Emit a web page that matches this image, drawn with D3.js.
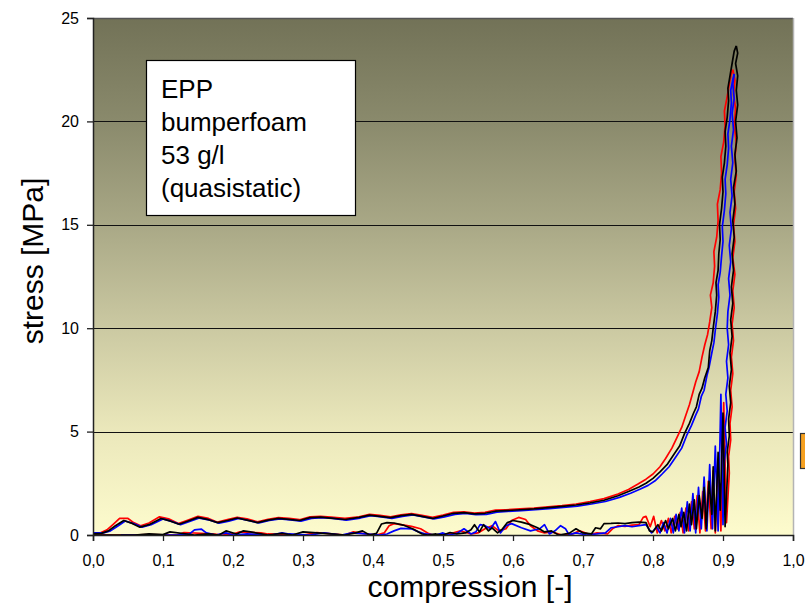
<!DOCTYPE html>
<html>
<head>
<meta charset="utf-8">
<script src="https://cdn.jsdelivr.net/npm/d3@7"></script>
<style>
  html, body { margin: 0; padding: 0; background: #ffffff; }
  svg { display: block; }
  text { font-family: "Liberation Sans", Arial, sans-serif; fill: #000; }
</style>
</head>
<body>
<div id="chart"></div>
<script>
// Quasistatic compression test of EPP bumper foam, 53 g/l: three runs,
// each one loading up to ~0.92 compression and then unloading.
const xTicks = [0, 0.1, 0.2, 0.3, 0.4, 0.5, 0.6, 0.7, 0.8, 0.9, 1.0];
const yTicks = [0, 5, 10, 15, 20, 25];
const noteLines = ["EPP", "bumperfoam", "53 g/l", "(quasistatic)"];

// [compression, stress MPa]
const blackLoading = [[0,0.05],[0.012,0.08],[0.022,0.2],[0.032,0.45],[0.044,0.7],[0.056,0.56],[0.067,0.38],[0.08,0.5],[0.097,0.8],[0.11,0.68],[0.123,0.52],[0.136,0.68],[0.15,0.85],[0.165,0.74],[0.178,0.6],[0.192,0.7],[0.206,0.82],[0.22,0.72],[0.235,0.6],[0.25,0.72],[0.265,0.8],[0.28,0.76],[0.295,0.7],[0.31,0.84],[0.325,0.86],[0.34,0.82],[0.36,0.75],[0.38,0.85],[0.395,0.96],[0.41,0.9],[0.425,0.84],[0.44,0.94],[0.455,1.0],[0.47,0.9],[0.485,0.8],[0.5,0.92],[0.515,1.05],[0.53,1.08],[0.545,1.02],[0.56,1.05],[0.575,1.15],[0.59,1.18],[0.61,1.22],[0.63,1.26],[0.65,1.32],[0.67,1.38],[0.69,1.45],[0.71,1.55],[0.73,1.68],[0.75,1.9],[0.765,2.1],[0.78,2.32],[0.79,2.5],[0.8,2.74],[0.81,3.05],[0.82,3.4],[0.83,3.9],[0.838,4.3],[0.845,4.9],[0.852,5.4],[0.858,5.9],[0.862,6.2],[0.866,6.8],[0.87,7.1],[0.874,7.6],[0.879,8.1],[0.881,8.9],[0.884,9.4],[0.886,10],[0.889,10.8],[0.891,11.6],[0.89,12.2],[0.893,12.8],[0.894,13.6],[0.896,14.3],[0.895,15],[0.898,15.8],[0.9,16.6],[0.899,17.3],[0.902,18],[0.904,18.8],[0.903,19.5],[0.906,20.2],[0.908,21],[0.907,21.6],[0.91,22.2],[0.913,22.8],[0.916,23.4],[0.919,23.65]];
const blackUnloading = [[0.919,23.65],[0.921,23.3],[0.918,22.8],[0.921,22.2],[0.919,21.5],[0.921,20.8],[0.918,20.0],[0.92,19.2],[0.917,18.4],[0.919,17.6],[0.915,16.8],[0.917,16],[0.914,15.2],[0.916,14.4],[0.913,13.6],[0.915,12.8],[0.912,12],[0.914,11.2],[0.911,10.4],[0.913,9.6],[0.91,8.8],[0.912,8],[0.909,7.2],[0.911,6.4],[0.908,5.6],[0.909,4.8],[0.906,4.0],[0.907,3.4],[0.903,0.4],[0.9,5.9],[0.896,1.2],[0.893,4.0],[0.889,0.2],[0.886,3.3],[0.884,1.0],[0.88,2.6],[0.876,0.3],[0.873,2.3],[0.87,0.8],[0.866,1.9],[0.862,0.3],[0.859,1.7],[0.855,0.5],[0.852,1.5],[0.848,0.2],[0.844,1.1],[0.84,0.4],[0.837,1.0],[0.832,0.2],[0.828,0.8],[0.822,0.3],[0.818,0.7],[0.812,0.2],[0.807,0.5],[0.8,0.15],[0.795,0.2],[0.79,0.6],[0.78,0.62],[0.77,0.6],[0.76,0.55],[0.75,0.58],[0.74,0.56],[0.73,0.55],[0.725,0.3],[0.718,0.35],[0.712,0.05],[0.7,0.1],[0.69,0.3],[0.68,0.08],[0.665,0.0],[0.655,0.2],[0.645,0.15],[0.635,0.35],[0.625,0.5],[0.612,0.62],[0.6,0.7],[0.592,0.6],[0.585,0.3],[0.578,0.1],[0.57,0.35],[0.565,0.2],[0.558,0.5],[0.552,0.15],[0.545,0.5],[0.54,0.25],[0.532,0.1],[0.52,0.05],[0.51,0.12],[0.5,0.0],[0.49,0.05],[0.478,0.0],[0.47,0.05],[0.458,0.28],[0.443,0.48],[0.43,0.58],[0.42,0.6],[0.412,0.53],[0.405,0.08],[0.395,0.0],[0.385,0.2],[0.375,0.1],[0.36,0.0],[0.34,0.05],[0.3,0.15],[0.285,0.0],[0.27,0.08],[0.25,0.0],[0.225,0.15],[0.215,0.2],[0.205,0.05],[0.19,0.2],[0.18,0.0],[0.165,0.05],[0.145,0.0],[0.11,0.15],[0.1,0.02],[0.08,0.05],[0.06,0.0],[0.0,0.0]];

const redLoading = [[0,0.1],[0.01,0.1],[0.02,0.25],[0.03,0.55],[0.038,0.8],[0.05,0.8],[0.058,0.6],[0.068,0.45],[0.08,0.58],[0.095,0.88],[0.108,0.78],[0.122,0.55],[0.136,0.72],[0.15,0.9],[0.165,0.8],[0.178,0.62],[0.192,0.74],[0.206,0.86],[0.22,0.78],[0.235,0.64],[0.25,0.76],[0.265,0.84],[0.28,0.8],[0.295,0.74],[0.31,0.88],[0.325,0.9],[0.34,0.86],[0.36,0.8],[0.38,0.88],[0.395,1.0],[0.41,0.95],[0.425,0.88],[0.44,0.98],[0.455,1.04],[0.47,0.95],[0.485,0.85],[0.5,0.96],[0.515,1.1],[0.53,1.12],[0.545,1.06],[0.56,1.1],[0.575,1.2],[0.59,1.22],[0.61,1.26],[0.63,1.3],[0.65,1.36],[0.67,1.42],[0.69,1.5],[0.71,1.62],[0.73,1.76],[0.75,1.98],[0.765,2.2],[0.778,2.45],[0.79,2.7],[0.8,2.95],[0.81,3.3],[0.818,3.7],[0.827,4.2],[0.834,4.7],[0.841,5.2],[0.847,5.8],[0.852,6.3],[0.857,6.9],[0.861,7.4],[0.866,7.9],[0.87,8.6],[0.874,9.2],[0.878,9.7],[0.881,10.3],[0.884,11],[0.882,11.6],[0.886,12.2],[0.888,13],[0.887,13.7],[0.891,14.4],[0.893,15.2],[0.892,16],[0.896,16.7],[0.898,17.5],[0.897,18.3],[0.901,19],[0.903,19.8],[0.902,20.5],[0.906,21.2],[0.909,21.8],[0.912,22.3],[0.914,22.5]];
const redUnloading = [[0.914,22.5],[0.917,22.0],[0.915,21.3],[0.918,20.6],[0.916,19.8],[0.919,19],[0.917,18.2],[0.919,17.4],[0.916,16.6],[0.918,15.8],[0.915,15],[0.917,14.2],[0.914,13.4],[0.917,12.6],[0.914,11.8],[0.916,11],[0.913,10.2],[0.915,9.4],[0.912,8.6],[0.914,7.8],[0.911,7],[0.913,6.2],[0.91,5.4],[0.911,4.6],[0.908,3.8],[0.909,3.0],[0.905,0.6],[0.901,6.4],[0.897,0.2],[0.893,3.6],[0.889,0.1],[0.886,3.1],[0.883,0.3],[0.879,2.6],[0.875,0.2],[0.871,2.1],[0.867,0.1],[0.863,1.9],[0.859,0.3],[0.855,1.6],[0.851,0.2],[0.847,1.3],[0.843,0.1],[0.839,1.1],[0.835,0.3],[0.831,0.9],[0.826,0.1],[0.822,0.8],[0.817,0.2],[0.812,0.7],[0.806,0.1],[0.801,0.9],[0.796,0.4],[0.79,0.9],[0.786,0.85],[0.78,0.5],[0.77,0.48],[0.76,0.42],[0.75,0.45],[0.742,0.3],[0.735,0.05],[0.72,0.1],[0.71,0.02],[0.695,0.2],[0.685,0.05],[0.67,0.0],[0.655,0.15],[0.645,0.1],[0.635,0.2],[0.625,0.45],[0.618,0.75],[0.608,0.85],[0.598,0.7],[0.59,0.3],[0.58,0.2],[0.57,0.45],[0.56,0.3],[0.55,0.1],[0.54,0.05],[0.525,0.2],[0.515,0.1],[0.5,0.02],[0.485,0.0],[0.478,0.1],[0.468,0.3],[0.455,0.42],[0.44,0.5],[0.43,0.55],[0.423,0.45],[0.416,0.1],[0.405,0.0],[0.39,0.05],[0.372,0.15],[0.36,0.0],[0.34,0.05],[0.32,0.12],[0.3,0.0],[0.25,0.05],[0.24,0.1],[0.21,0.15],[0.2,0.05],[0.185,0.0],[0.17,0.05],[0.13,0.12],[0.12,0.0],[0.08,0.02],[0.05,0.0],[0.0,0.0]];

const blueLoading = [[0,0.1],[0.015,0.1],[0.025,0.2],[0.035,0.42],[0.046,0.68],[0.058,0.55],[0.07,0.38],[0.083,0.5],[0.1,0.78],[0.112,0.66],[0.125,0.5],[0.138,0.65],[0.152,0.82],[0.167,0.72],[0.18,0.57],[0.194,0.67],[0.208,0.8],[0.222,0.7],[0.237,0.58],[0.252,0.7],[0.267,0.78],[0.282,0.73],[0.297,0.67],[0.312,0.8],[0.327,0.84],[0.342,0.8],[0.362,0.72],[0.382,0.82],[0.397,0.93],[0.412,0.88],[0.427,0.8],[0.442,0.9],[0.457,0.97],[0.472,0.88],[0.487,0.78],[0.502,0.88],[0.517,1.0],[0.532,1.05],[0.547,0.98],[0.562,1.0],[0.577,1.1],[0.592,1.14],[0.612,1.18],[0.632,1.22],[0.652,1.28],[0.672,1.34],[0.692,1.4],[0.712,1.5],[0.732,1.62],[0.752,1.82],[0.768,2.02],[0.782,2.22],[0.793,2.4],[0.803,2.62],[0.813,2.95],[0.823,3.3],[0.833,3.8],[0.841,4.2],[0.848,4.8],[0.855,5.3],[0.861,5.8],[0.865,6.1],[0.869,6.7],[0.873,7.0],[0.877,7.7],[0.88,8.1],[0.884,8.8],[0.887,9.3],[0.889,9.9],[0.892,10.7],[0.894,11.5],[0.893,12.1],[0.896,12.7],[0.898,13.5],[0.9,14.2],[0.899,14.9],[0.902,15.7],[0.904,16.5],[0.903,17.2],[0.906,17.9],[0.908,18.7],[0.907,19.4],[0.91,20.1],[0.912,20.9],[0.911,21.5],[0.914,22.0],[0.916,22.3]];
const blueUnloading = [[0.916,22.3],[0.914,21.8],[0.916,21.1],[0.913,20.4],[0.915,19.6],[0.912,18.8],[0.914,18],[0.911,17.2],[0.913,16.4],[0.91,15.6],[0.912,14.8],[0.909,14],[0.911,13.2],[0.908,12.4],[0.91,11.6],[0.907,10.8],[0.906,10],[0.908,9.2],[0.905,8.4],[0.907,7.6],[0.904,6.8],[0.906,6],[0.903,5.2],[0.905,4.4],[0.902,3.6],[0.9,0.5],[0.897,6.8],[0.893,0.2],[0.889,4.3],[0.885,0.3],[0.881,3.4],[0.877,0.2],[0.873,2.8],[0.869,0.3],[0.865,2.3],[0.861,0.1],[0.857,2.0],[0.853,0.2],[0.849,1.6],[0.845,0.1],[0.841,1.3],[0.837,0.2],[0.833,1.0],[0.829,0.1],[0.825,0.8],[0.82,0.1],[0.815,0.6],[0.81,0.1],[0.805,0.4],[0.798,0.1],[0.79,0.5],[0.78,0.45],[0.77,0.4],[0.76,0.45],[0.75,0.4],[0.74,0.35],[0.732,0.1],[0.72,0.05],[0.705,0.0],[0.69,0.1],[0.68,0.02],[0.675,0.3],[0.668,0.45],[0.66,0.2],[0.652,0.05],[0.645,0.5],[0.638,0.3],[0.625,0.2],[0.612,0.35],[0.598,0.55],[0.59,0.45],[0.582,0.1],[0.575,0.65],[0.568,0.3],[0.56,0.45],[0.553,0.5],[0.547,0.15],[0.54,0.05],[0.53,0.3],[0.52,0.08],[0.508,0.0],[0.5,0.1],[0.49,0.0],[0.475,0.05],[0.465,0.15],[0.455,0.3],[0.44,0.32],[0.43,0.2],[0.42,0.05],[0.41,0.0],[0.39,0.05],[0.37,0.1],[0.355,0.0],[0.33,0.1],[0.31,0.0],[0.28,0.05],[0.27,0.1],[0.255,0.0],[0.22,0.05],[0.2,0.0],[0.19,0.1],[0.175,0.0],[0.162,0.1],[0.155,0.28],[0.145,0.25],[0.138,0.05],[0.12,0.0],[0.05,0.0],[0.04,0.0]];

const runs = [
  { color: "#ff0000", loading: redLoading, unloading: redUnloading },
  { color: "#0000ff", loading: blueLoading, unloading: blueUnloading },
  { color: "#000000", loading: blackLoading, unloading: blackUnloading }
];

const W = 805, H = 604;
const margin = { left: 93, right: 12, top: 18, bottom: 69 };

const svg = d3.select("#chart").append("svg")
  .attr("width", W).attr("height", H);

const x = d3.scaleLinear().domain([0, 1]).range([margin.left, W - margin.right]);
const y = d3.scaleLinear().domain([0, 25]).range([H - margin.bottom, margin.top]);

// plot area background: dark olive at the top fading to pale yellow
const grad = svg.append("defs").append("linearGradient")
  .attr("id", "plotBg").attr("x1", 0).attr("y1", 0).attr("x2", 0).attr("y2", 1);
[["0", "#727257"], ["0.2", "#8a8a6c"], ["0.4", "#a9a886"], ["0.6", "#cbc9a2"], ["0.8", "#ebe8bb"], ["1", "#fdfbcd"]]
  .forEach(([o, c]) => grad.append("stop").attr("offset", o).attr("stop-color", c));

svg.append("rect")
  .attr("x", x(0)).attr("y", y(25))
  .attr("width", x(1) - x(0)).attr("height", y(0) - y(25))
  .attr("fill", "url(#plotBg)");

// horizontal grid lines
svg.append("g").selectAll("line")
  .data(yTicks.filter(v => v > 0 && v < 25))
  .join("line")
  .attr("x1", x(0)).attr("x2", x(1))
  .attr("y1", d => Math.round(y(d)) + 0.5).attr("y2", d => Math.round(y(d)) + 0.5)
  .attr("stroke", "#111").attr("stroke-width", 1);

// frame: dark top edge, light right edge
svg.append("line")
  .attr("x1", x(0)).attr("x2", x(1))
  .attr("y1", y(25) + 0.5).attr("y2", y(25) + 0.5)
  .attr("stroke", "#555").attr("stroke-width", 1.5);
svg.append("line")
  .attr("x1", x(1) + 0.5).attr("x2", x(1) + 0.5)
  .attr("y1", y(25)).attr("y2", y(0))
  .attr("stroke", "#b4b4b4").attr("stroke-width", 1.5);

// the measured curves
const line = d3.line().x(d => x(d[0])).y(d => y(d[1]));
const curves = svg.append("g");
runs.forEach(r => {
  [r.loading, r.unloading].forEach(seg => {
    curves.append("path")
      .datum(seg)
      .attr("d", line)
      .attr("fill", "none")
      .attr("stroke", r.color)
      .attr("stroke-width", 1.7)
      .attr("stroke-linejoin", "round");
  });
});

// axes
const fmt = d => d.toFixed(1).replace(".", ",");
const xAxis = svg.append("g")
  .attr("transform", `translate(0,${y(0)})`)
  .call(d3.axisBottom(x).tickValues(xTicks).tickFormat(fmt).tickSize(6).tickPadding(14));
const yAxis = svg.append("g")
  .attr("transform", `translate(${x(0)},0)`)
  .call(d3.axisLeft(y).tickValues(yTicks).tickSize(6).tickPadding(8));
[xAxis, yAxis].forEach(g => {
  g.select(".domain").attr("stroke", "#222").attr("stroke-width", 1.5);
  g.selectAll(".tick line").attr("stroke", "#222").attr("stroke-width", 1.3);
  g.selectAll(".tick text")
    .style("font-family", "'Liberation Sans', Arial, sans-serif")
    .style("font-size", "16px").attr("fill", "#000");
});

// axis titles
svg.append("text")
  .attr("x", 470).attr("y", 597)
  .attr("text-anchor", "middle")
  .style("font-size", "30px")
  .text("compression [-]");
svg.append("text")
  .attr("transform", "translate(43,261) rotate(-90)")
  .attr("text-anchor", "middle")
  .style("font-size", "30px")
  .text("stress [MPa]");

// description box
const note = svg.append("g");
note.append("rect")
  .attr("x", 146.5).attr("y", 60.5).attr("width", 209).attr("height", 155)
  .attr("fill", "#ffffff").attr("stroke", "#000").attr("stroke-width", 1.2);
note.selectAll("text")
  .data(noteLines)
  .join("text")
  .attr("x", 161).attr("y", (d, i) => 98 + i * 33)
  .style("font-size", "26px")
  .text(d => d);

// legend swatch at the right edge, partly outside the frame
svg.append("rect")
  .attr("x", 800.5).attr("y", 433.5).attr("width", 20).attr("height", 35)
  .attr("fill", "#f5a020").attr("stroke", "#333").attr("stroke-width", 1.2);
</script>
</body>
</html>
